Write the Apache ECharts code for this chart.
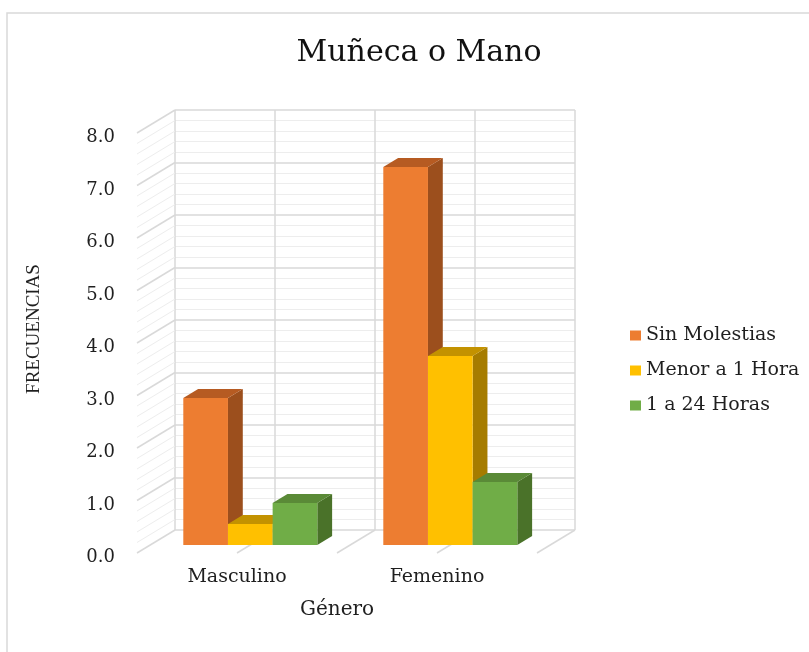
<!DOCTYPE html>
<html>
<head>
<meta charset="utf-8">
<title>Muñeca o Mano</title>
<script src="https://cdn.jsdelivr.net/npm/echarts@6/dist/echarts.min.js"></script>
<style>
  html, body { margin: 0; padding: 0; background: #ffffff; }
  #chart { width: 809px; height: 652px; }
</style>
</head>
<body>
<div id="chart"></div>
<script>
// Categories and values
const categories = ['Masculino', 'Femenino'];
const seriesNames = ['Sin Molestias', 'Menor a 1 Hora', '1 a 24 Horas'];
const sinMolestias = [2.8, 7.2];
const menorUnaHora = [0.4, 3.6];
const unoA24Horas = [0.8, 1.2];
const yMin = 0, yMax = 8, yStep = 1;

// Face colours: front, side, top
const palette = [
  { front: '#ED7D31', side: '#9C4F1D', top: '#B65B22' },
  { front: '#FFC000', side: '#A67C00', top: '#C39200' },
  { front: '#70AD47', side: '#4A7229', top: '#5A8A37' }
];

// Oblique depth of the plot box (pixels from front plane to back wall)
const DX = 38, DY = -23;
const BAR_FRONT = 0.35;   // depth fraction of bar front faces
const BAR_DEPTH = 0.39;   // bar thickness as depth fraction
const GROUP = 0.67;       // share of a category taken by the bar group

const FRONT = { left: 137, top: 133, width: 400, height: 420 };
const BACK = { left: FRONT.left + DX, top: FRONT.top + DY, width: 400, height: 420 };

const serif = 'DejaVu Serif';
const TEXT = '#1f1f1f';
const MAJOR = '#d9d9d9', MINOR = '#ededed';

function frameRenderer(params, api) {
  const cs = params.coordSys;
  const children = [];
  // left side wall lines
  const steps = (yMax - yMin) * 5;
  for (let k = 0; k <= steps; k++) {
    const v = yMin + k / 5;
    const y = api.coord([0, v])[1];
    const major = k % 5 === 0;
    children.push({
      type: 'line',
      shape: { x1: cs.x, y1: y, x2: cs.x + DX, y2: y + DY },
      style: { stroke: major ? MAJOR : MINOR, lineWidth: major ? 1.5 : 1 }
    });
  }
  // floor lines running back to the wall
  const y0 = api.coord([0, yMin])[1];
  for (let k = 1; k <= categories.length * 2; k++) {
    const x = cs.x + k * cs.width / (categories.length * 2);
    children.push({
      type: 'line',
      shape: { x1: x, y1: y0, x2: x + DX, y2: y0 + DY },
      style: { stroke: MAJOR, lineWidth: 1.5 }
    });
  }
  return { type: 'group', children: children };
}

function barRenderer(idx) {
  const c = palette[idx];
  return function (params, api) {
    const cat = api.value(0), val = api.value(1);
    const base = api.coord([cat, yMin]);
    const top = api.coord([cat, val]);
    const catW = api.size([1, 0])[0];
    const groupW = catW * GROUP;
    const bw = groupW / seriesNames.length;
    const x0 = base[0] - groupW / 2 + idx * bw + DX * BAR_FRONT;
    const yb = base[1] + DY * BAR_FRONT;
    const yt = top[1] + DY * BAR_FRONT;
    const ox = DX * BAR_DEPTH, oy = DY * BAR_DEPTH;
    return {
      type: 'group',
      children: [
        { type: 'polygon', shape: { points: [[x0 + bw, yt], [x0 + bw + ox, yt + oy], [x0 + bw + ox, yb + oy], [x0 + bw, yb]] },
          style: { fill: c.side } },
        { type: 'polygon', shape: { points: [[x0, yt], [x0 + ox, yt + oy], [x0 + bw + ox, yt + oy], [x0 + bw, yt]] },
          style: { fill: c.top } },
        { type: 'rect', shape: { x: x0, y: yt, width: bw, height: yb - yt },
          style: { fill: c.front } }
      ]
    };
  };
}

const valuesBySeries = [sinMolestias, menorUnaHora, unoA24Horas];

const chart = echarts.init(document.getElementById('chart'), null, { renderer: 'canvas' });
chart.setOption({
  animation: false,
  backgroundColor: '#ffffff',
  title: {
    text: 'Muñeca o Mano',
    left: 414, top: 33, textAlign: 'center',
    textStyle: { fontFamily: serif, fontSize: 30, fontWeight: 'normal', color: '#111111' }
  },
  legend: {
    orient: 'vertical',
    left: 625, top: 321,
    icon: 'rect', itemWidth: 11, itemHeight: 10, itemGap: 16,
    data: seriesNames,
    textStyle: { fontFamily: serif, fontSize: 19, color: TEXT }
  },
  graphic: [{
    type: 'rect', silent: true, z: -10,
    shape: { x: 7, y: 13, width: 900, height: 700 },
    style: { fill: 'none', stroke: '#d9d9d9', lineWidth: 1.5 }
  }],
  grid: [
    Object.assign({ containLabel: false }, FRONT),
    Object.assign({ containLabel: false }, BACK)
  ],
  xAxis: [
    {
      type: 'category', gridIndex: 0, data: categories,
      axisLine: { show: false }, axisTick: { show: false }, splitLine: { show: false },
      axisLabel: { fontFamily: serif, fontSize: 19, color: TEXT, margin: 15 },
      name: 'Género', nameLocation: 'middle', nameGap: 47,
      nameTextStyle: { fontFamily: serif, fontSize: 20, color: TEXT }
    },
    {
      type: 'value', gridIndex: 1, min: 0, max: 4, interval: 1,
      axisLine: { show: false }, axisTick: { show: false }, axisLabel: { show: false },
      splitLine: { show: true, lineStyle: { color: MAJOR, width: 1.5 } }
    }
  ],
  yAxis: [
    {
      type: 'value', gridIndex: 0, min: yMin, max: yMax, interval: yStep,
      axisLine: { show: false }, axisTick: { show: false }, splitLine: { show: false },
      axisLabel: { fontFamily: serif, fontSize: 18, color: TEXT, margin: 22,
        verticalAlign: 'top', lineHeight: 9,
        formatter: function (v) { return v.toFixed(1); } },
      name: 'FRECUENCIAS', nameLocation: 'middle', nameGap: 93, nameRotate: 90,
      nameTextStyle: { fontFamily: 'Liberation Serif', fontSize: 19, color: TEXT, padding: [0, 0, 0, 28] }
    },
    {
      type: 'value', gridIndex: 1, min: yMin, max: yMax, interval: yStep,
      axisLine: { show: false }, axisTick: { show: false }, axisLabel: { show: false },
      splitLine: { show: true, lineStyle: { color: MAJOR, width: 1.5 } },
      minorTick: { show: false, splitNumber: 5 },
      minorSplitLine: { show: true, lineStyle: { color: MINOR, width: 1 } }
    }
  ],
  series: [
    {
      type: 'custom', name: 'frame', xAxisIndex: 0, yAxisIndex: 0, z: 1, silent: true,
      renderItem: frameRenderer, data: [[0, 0]]
    }
  ].concat(seriesNames.map(function (name, i) {
    return {
      type: 'custom', name: name, xAxisIndex: 0, yAxisIndex: 0, z: 3 + i,
      itemStyle: { color: palette[i].front },
      renderItem: barRenderer(i),
      encode: { x: 0, y: 1 },
      data: categories.map(function (_, j) { return [j, valuesBySeries[i][j]]; })
    };
  }))
});
</script>
</body>
</html>
